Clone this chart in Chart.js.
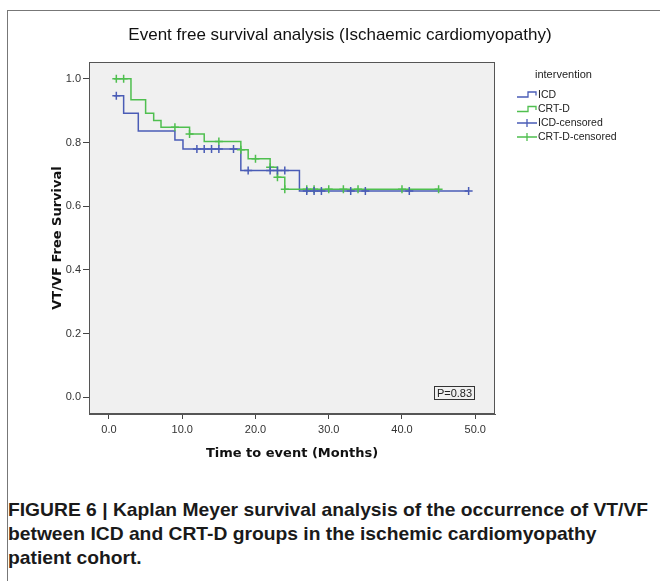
<!DOCTYPE html>
<html><head><meta charset="utf-8">
<script src="https://cdn.jsdelivr.net/npm/chart.js@4"></script>
<style>
html,body{margin:0;padding:0;background:#fff;width:660px;height:581px;overflow:hidden;}
#frame{position:absolute;left:7px;top:10px;width:700px;height:600px;border-left:1px solid #777;border-top:1px solid #777;}
#wrap{position:absolute;left:0;top:0;width:660px;height:470px;}
#caption{position:absolute;left:8px;top:498px;font-family:"Liberation Sans Narrow","Liberation Sans",Arial,sans-serif;font-weight:bold;font-size:19px;line-height:24px;color:#1a1a1a;white-space:nowrap;transform-origin:0 0;}
</style></head>
<body>
<div id="frame"></div>
<div id="wrap"><canvas id="c" width="660" height="470"></canvas></div>
<div id="caption"><span id="l1">FIGURE 6 | Kaplan Meyer survival analysis of the occurrence of VT/VF</span><br>between ICD and CRT-D groups in the ischemic cardiomyopathy<br>patient cohort.</div>
<script>
// ---- data ----
const chartTitle = "Event free survival analysis (Ischaemic cardiomyopathy)";
const seriesNames = ["ICD", "CRT-D", "ICD-censored", "CRT-D-censored"];
const icdTimes    = [0.7, 2.0, 4.0, 9.0, 10.1, 18.0, 26.0, 49.1];
const icdSurvival = [0.947, 0.892, 0.836, 0.808, 0.780, 0.712, 0.648, 0.648];
const crtTimes    = [0.7, 3.0, 5.0, 6.1, 7.1, 11.0, 13.0, 18.0, 19.0, 22.0, 23.0, 24.0, 45.0];
const crtSurvival = [1.000, 0.934, 0.892, 0.869, 0.848, 0.827, 0.803, 0.777, 0.749, 0.722, 0.691, 0.653, 0.653];
const icdCensorTimes = [1, 12, 13, 14, 15, 17, 19, 22, 23, 24, 27, 28, 29, 33, 35, 41, 49.1];
const crtCensorTimes = [1, 2, 9, 11, 15, 18, 20, 22, 23, 24, 27, 28, 30, 32, 34, 40, 45];
const xTicks = [0, 10, 20, 30, 40, 50];
const yTicks = [0, 0.2, 0.4, 0.6, 0.8, 1.0];
const pValueText = "P=0.83";

// ---- build ----
const BLUE = '#4a5cb6', GREEN = '#4fbf4f';
function stepAt(times, surv, t){ let v = surv[0]; for(let i=0;i<times.length;i++){ if(times[i] <= t + 1e-9) v = surv[i]; } return v; }
const pts = (ts, ss) => ts.map((t,i)=>({x:t, y:ss[i]}));
const censorPts = (cts, ts, ss) => cts.map(t=>({x:t, y:stepAt(ts, ss, t)}));

const FONT = '"Liberation Sans", Arial, sans-serif';
const BOLDFONT = '"DejaVu Sans", Verdana, sans-serif';

const decor = {
  id:'decor',
  beforeDraw(chart){
    const {ctx, chartArea:a} = chart;
    ctx.save();
    ctx.fillStyle = '#f0f0f0';
    ctx.fillRect(a.left, a.top, a.right-a.left, a.bottom-a.top);
    ctx.restore();
  },
  afterDraw(chart){
    const {ctx, chartArea:a} = chart;
    ctx.save();
    ctx.strokeStyle = '#555'; ctx.lineWidth = 1;
    ctx.strokeRect(a.left+0.5, a.top+0.5, a.right-a.left-1, a.bottom-a.top-1);
    // title
    ctx.fillStyle = '#111';
    ctx.font = '17px ' + FONT;
    ctx.textAlign = 'center'; ctx.textBaseline = 'middle';
    ctx.fillText(chartTitle, 340, 35);
    // legend
    ctx.textAlign = 'left';
    ctx.font = '11px ' + FONT;
    ctx.fillStyle = '#222';
    ctx.fillText('intervention', 535, 75);
    ctx.font = '10.5px ' + FONT;
    const rows = [94.5, 109, 123, 137];
    const cols = [BLUE, GREEN, BLUE, GREEN];
    rows.forEach((y,i)=>{
      ctx.strokeStyle = cols[i]; ctx.lineWidth = 1.3;
      ctx.beginPath();
      if (i < 2){
        ctx.moveTo(517, y+2.5); ctx.lineTo(528, y+2.5); ctx.lineTo(528, y-2.5); ctx.lineTo(536, y-2.5); ctx.lineTo(536, y+1);
      } else {
        ctx.moveTo(517, y); ctx.lineTo(537, y); ctx.moveTo(527, y-4); ctx.lineTo(527, y+4);
      }
      ctx.stroke();
      ctx.fillStyle = '#222';
      ctx.fillText(seriesNames[i], 538, y+0.5);
    });
    // p value box
    ctx.font = '11px ' + FONT;
    ctx.strokeStyle = '#333'; ctx.lineWidth = 1;
    ctx.strokeRect(434.5, 386.5, 40, 13);
    ctx.fillStyle = '#222';
    ctx.textAlign = 'center';
    ctx.fillText(pValueText, 454.5, 393.5);
    ctx.restore();
  }
};

new Chart(document.getElementById('c'), {
  data: {
    datasets: [
      {type:'line', label:seriesNames[0], data:pts(icdTimes, icdSurvival), stepped:'before', borderColor:BLUE, borderWidth:1.5, pointRadius:0, fill:false, order:2},
      {type:'line', label:seriesNames[1], data:pts(crtTimes, crtSurvival), stepped:'before', borderColor:GREEN, borderWidth:1.5, pointRadius:0, fill:false, order:1},
      {type:'scatter', label:seriesNames[2], data:censorPts(icdCensorTimes, icdTimes, icdSurvival), pointStyle:'cross', pointRadius:4, borderColor:BLUE, borderWidth:1.5, order:0},
      {type:'scatter', label:seriesNames[3], data:censorPts(crtCensorTimes, crtTimes, crtSurvival), pointStyle:'cross', pointRadius:4, borderColor:GREEN, borderWidth:1.5, order:0}
    ]
  },
  options: {
    responsive:false, animation:false, devicePixelRatio:1,
    layout:{padding:{top:62, right:165, bottom:0, left:0}},
    plugins:{legend:{display:false}, tooltip:{enabled:false}, title:{display:false}},
    scales:{
      x:{type:'linear', min:-2.73, max:52.7,
        afterBuildTicks(s){ s.ticks = xTicks.map(v=>({value:v})); },
        afterFit(s){ s.height = 56; },
        ticks:{callback:v=>Number(v).toFixed(1), font:{size:11, family:FONT}, color:'#333', padding:4, maxRotation:0, autoSkip:false},
        grid:{drawOnChartArea:false, drawTicks:true, tickLength:5, color:'#444'},
        border:{display:true, color:'#555'},
        title:{display:true, text:'Time to event (Months)', font:{size:13, weight:'bold', family:BOLDFONT}, color:'#111', padding:{top:0, bottom:9}}
      },
      y:{type:'linear', min:-0.053, max:1.053,
        afterBuildTicks(s){ s.ticks = yTicks.map(v=>({value:v})); },
        afterFit(s){ s.width = 89; },
        ticks:{callback:v=>Number(v).toFixed(1), font:{size:11, family:FONT}, color:'#333', padding:2, autoSkip:false},
        grid:{drawOnChartArea:false, drawTicks:true, tickLength:6, color:'#444'},
        border:{display:true, color:'#555'},
        title:{display:true, text:'VT/VF Free Survival', font:{size:13, weight:'bold', family:BOLDFONT}, color:'#111', padding:{top:50, bottom:0}}
      }
    }
  },
  plugins:[decor]
});

// fit caption first line to the reference width
const l1 = document.getElementById('l1');
const w = l1.getBoundingClientRect().width;
document.getElementById('caption').style.transform = 'scaleX(' + (640 / w) + ')';
</script>
</body></html>
